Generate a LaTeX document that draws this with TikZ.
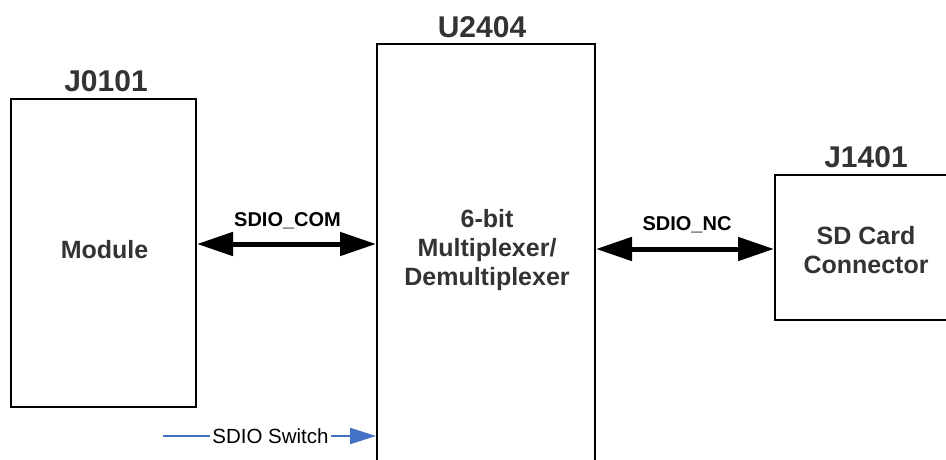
\documentclass[tikz,border=0pt]{standalone}
\usepackage{fontspec}
\setmainfont{Liberation Sans}
\usetikzlibrary{arrows.meta}
\definecolor{labelgray}{HTML}{333333}
\definecolor{ctrlblue}{HTML}{4472C4}
\tikzset{
  block/.style={draw=black, line width=2pt, fill=none, inner sep=0pt},
  refdes/.style={font=\bfseries\fontsize{30}{34}\selectfont, text=labelgray, anchor=base, inner sep=0pt},
  blocktext/.style={font=\bfseries\fontsize{25}{29}\selectfont, text=labelgray, anchor=base, inner sep=0pt, align=center},
  buslabel/.style={font=\bfseries\fontsize{20}{24}\selectfont, text=black, anchor=base, inner sep=0pt},
  bus/.style={line width=5pt, {Triangle[length=36pt,width=23pt]}-{Triangle[length=36pt,width=23pt]}},
  ctrl/.style={line width=2pt, draw=ctrlblue, -{Triangle[length=26pt,width=16pt]}},
}
\begin{document}
\begin{tikzpicture}[x=1pt, y=-1pt]
  \useasboundingbox (0,0) rectangle (946,460);
  \clip (0,0) rectangle (946,460);

  % blocks
  \node[block, minimum width=185pt, minimum height=308pt] (J0101) at (103.5,253) {};
  \node[block, minimum width=218pt, minimum height=440pt] (U2404) at (486,264) {};
  \node[block, minimum width=215pt, minimum height=145pt] (J1401) at (882.5,247.5) {};

  % reference designators
  \node[refdes] (J0101lbl) at (106,92) {J0101};
  \node[refdes] (U2404lbl) at (482,38) {U2404};
  \node[refdes] (J1401lbl) at (866,167) {J1401};

  % block functions (base anchor sits on the last line)
  \node[blocktext] (modtxt) at (104.5,258) {Module};
  \node[blocktext] (muxtxt) at (487,285) {6-bit\\Multiplexer/\\Demultiplexer};
  \node[blocktext] (sdtxt) at (866,273) {SD Card\\Connector};

  % buses
  \coordinate (comY) at (0,244);
  \coordinate (ncY) at (0,249);
  \draw[bus] (J0101.east |- comY) -- (U2404.west |- comY);
  \draw[bus] (U2404.east |- ncY) -- (J1401.west |- ncY);
  \node[buslabel] (comlbl) at (287.5,226) {SDIO\_COM};
  \node[buslabel] (nclbl) at (687,230) {SDIO\_NC};

  % switch control input
  \coordinate (swin) at (163,436);
  \draw[ctrl] (swin) -- (U2404.west |- swin);
  \node[fill=white, inner xsep=2pt, inner ysep=1pt, font=\fontsize{20.5}{24}\selectfont] (swlbl) at (270.5,436) {SDIO Switch};
\end{tikzpicture}
\end{document}
